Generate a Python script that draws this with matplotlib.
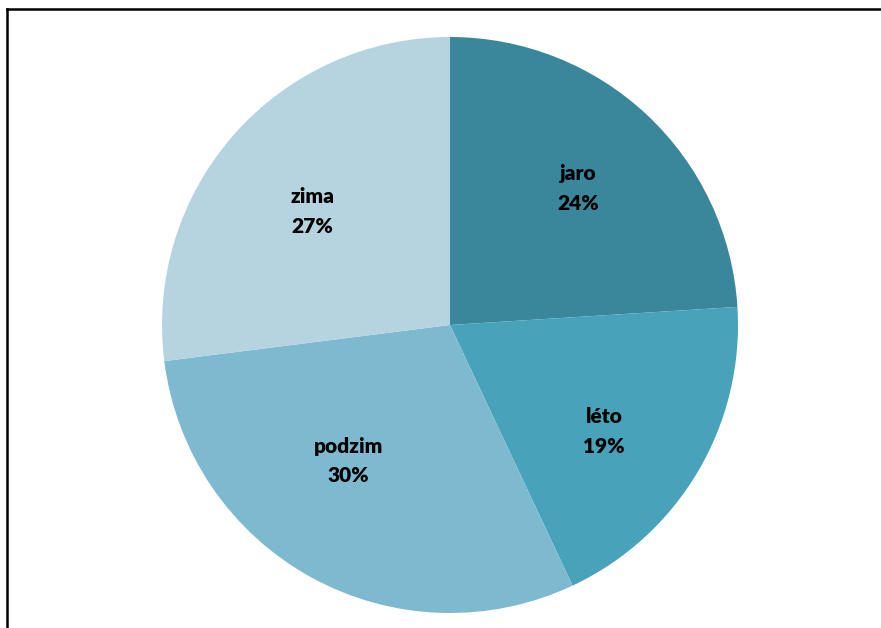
import numpy as np
import matplotlib.pyplot as plt
from matplotlib.lines import Line2D

# ----------------------------
# Data
# ----------------------------

seasons = ["jaro", "léto", "podzim", "zima"]
shares = [24, 19, 30, 27]
colors = ["#3A879B", "#47A2BA", "#7DBACF", "#B5D4DF"]

# ----------------------------
# Figure
# ----------------------------

W, H = 881, 628
fig = plt.figure(figsize=(W / 100, H / 100), dpi=100)

# frame around the chart (top and left edges visible)
fig.add_artist(Line2D([6.5 / W, 6.5 / W], [0, 1 - 8.5 / H],
                      transform=fig.transFigure, color="black", lw=1.8,
                      solid_capstyle="projecting"))
fig.add_artist(Line2D([6.5 / W, 1], [1 - 8.5 / H, 1 - 8.5 / H],
                      transform=fig.transFigure, color="black", lw=1.8,
                      solid_capstyle="projecting"))

cx, cy, r = 450, 325, 288
ax = fig.add_axes([(cx - r) / W, (H - cy - r) / H, 2 * r / W, 2 * r / H])

wedges, _ = ax.pie(
    shares,
    colors=colors,
    startangle=90,
    counterclock=False,
    radius=1,
    wedgeprops=dict(linewidth=0),
)

# label distances from centre (fraction of radius) and small angle shifts
label_dist = [0.65, 0.65, 0.59, 0.62]
angle_shift = [0, -4, -8, 2]

for w, name, val, d, s in zip(wedges, seasons, shares, label_dist, angle_shift):
    ang = np.deg2rad((w.theta1 + w.theta2) / 2 + s)
    ax.text(d * np.cos(ang), d * np.sin(ang), f"{name}\n{val}%",
            ha="center", va="center", fontsize=15, fontweight="heavy",
            family="Lato", linespacing=1.65, color="black")

ax.set_xlim(-1, 1)
ax.set_ylim(-1, 1)
ax.set_aspect("equal")
ax.axis("off")

fig.savefig("out.png", dpi=100)
